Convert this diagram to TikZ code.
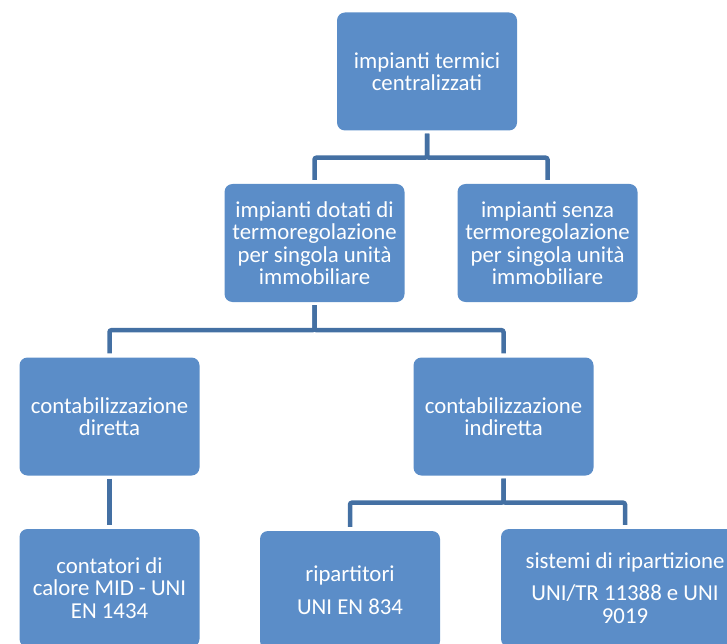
\documentclass[tikz,border=0pt]{standalone}
\usepackage{fontspec}
\setmainfont{Carlito}
\definecolor{boxfill}{RGB}{91,141,200}
\definecolor{linecol}{RGB}{68,112,163}
\tikzset{
  box/.style={draw=none, fill=boxfill, rounded corners=8pt, text=white, align=center,
    font=\fontsize{22.8}{22.4}\selectfont, inner sep=0pt, minimum width=180pt, minimum height=118pt},
  conn/.style={draw=linecol, line width=4.5pt, rounded corners=2pt, shorten <=3pt, shorten >=4pt}
}
\begin{document}
\begin{tikzpicture}[x=1pt,y=-1pt]
\useasboundingbox (0,0) rectangle (727,644);
\clip (0,0) rectangle (727,644);
\node[box] (top) at (427,71.5) {impianti termici\\centralizzati};
\node[box] (midL) at (314.5,243) {impianti dotati di\\termoregolazione\\per singola unità\\immobiliare};
\node[box] (midR) at (547.5,243) {impianti senza\\termoregolazione\\per singola unità\\immobiliare};
\node[box] (r3L) at (109.5,416.5) {contabilizzazione\\diretta};
\node[box] (r3R) at (503.5,416.5) {contabilizzazione\\indiretta};
\node[box] (r4L) at (109.5,588) {contatori di\\calore MID - UNI\\EN 1434};
\node[box] (r4M) at (350,590) {ripartitori\\[10pt]UNI EN 834};
\node[box, minimum width=248pt] (r4R) at (625,588) {sistemi di ripartizione\\[10pt]UNI/TR 11388 e UNI\\9019};
\draw[conn] (top.south) -- ++(0,27) -| (midL.north);
\draw[conn] (top.south) -- ++(0,27) -| (midR.north);
\draw[conn] (midL.south) -- ++(0,28) -| (r3L.north);
\draw[conn] (midL.south) -- ++(0,28) -| (r3R.north);
\draw[conn] (r3L.south) -- (r4L.north);
\draw[conn] (r3R.south) -- ++(0,27) -| (r4M.north);
\draw[conn] (r3R.south) -- ++(0,27) -| (r4R.north);
\end{tikzpicture}
\end{document}
